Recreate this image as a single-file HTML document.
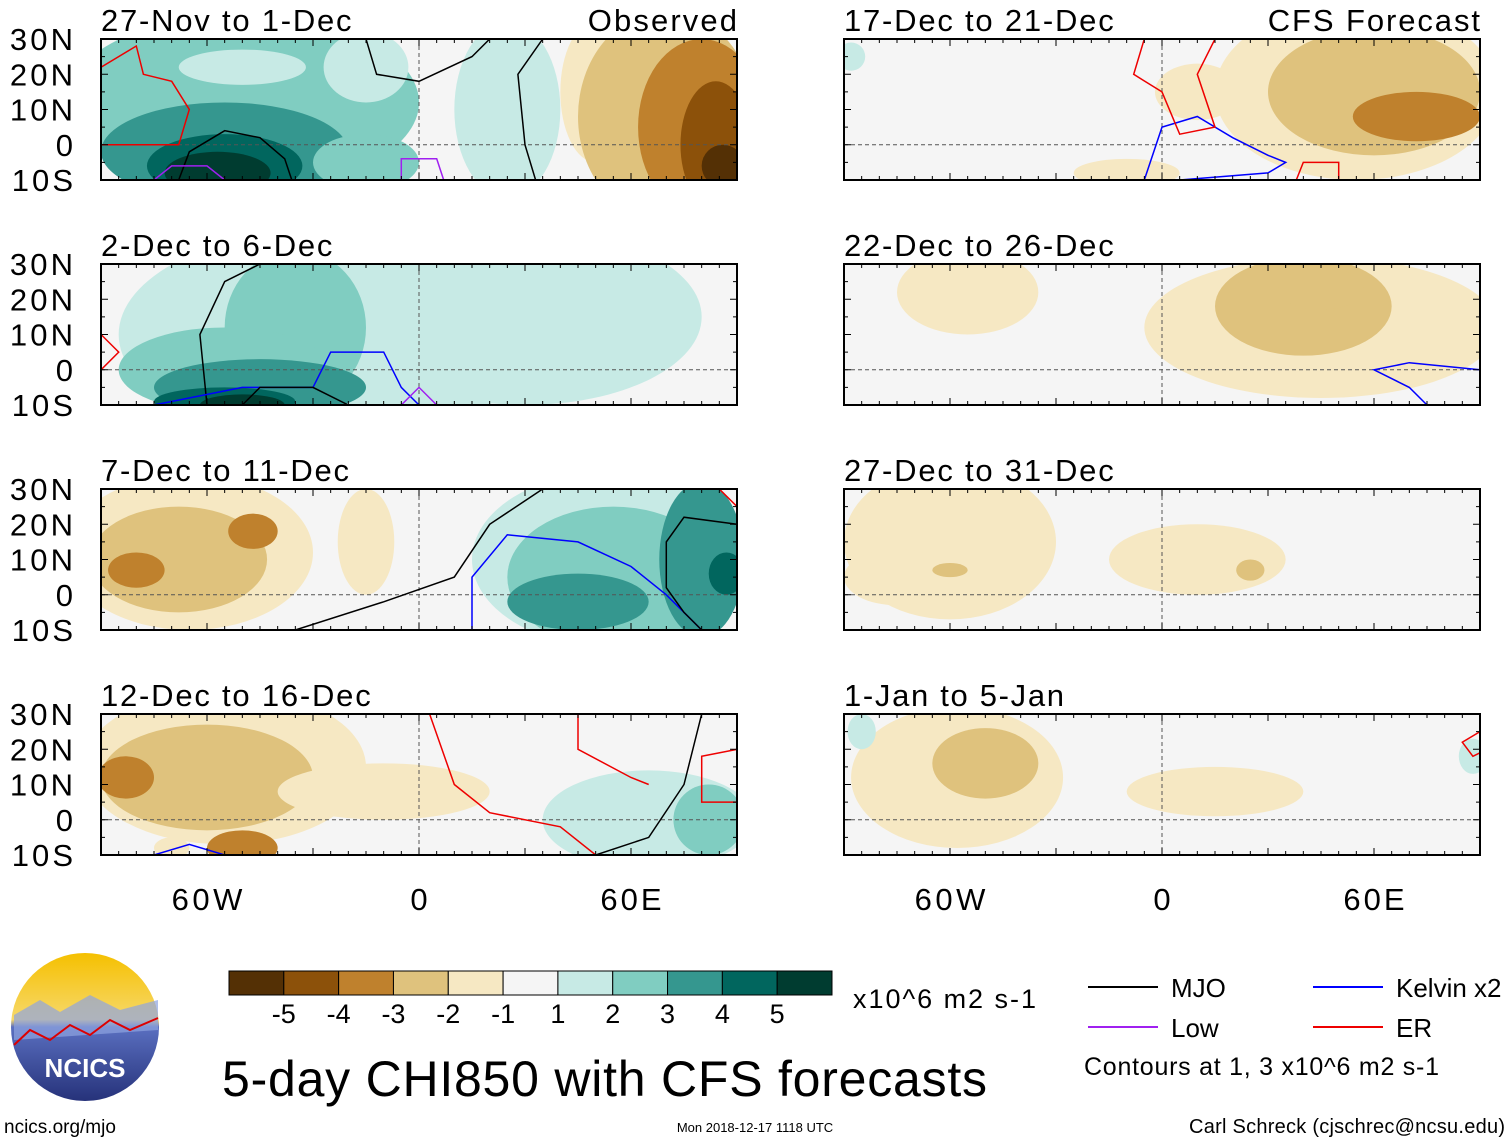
<!DOCTYPE html>
<html><head><meta charset="utf-8"><style>
body{margin:0;background:#fff;}
svg text{font-family:"Liberation Sans",sans-serif;}
</style></head><body>
<svg id="fig" width="1510" height="1142" viewBox="0 0 1510 1142" xmlns="http://www.w3.org/2000/svg">
<defs>
<linearGradient id="sky" x1="0" y1="0" x2="0" y2="1">
<stop offset="0" stop-color="#f5c000"/><stop offset="0.45" stop-color="#f7d86a"/><stop offset="0.5" stop-color="#5a6fc0"/><stop offset="1" stop-color="#26327a"/>
</linearGradient>
</defs>
</svg>
<script>
// colour scale (bins)
const binColors=["#543005","#8c510a","#bf812d","#dfc27d","#f6e8c3","#f5f5f5","#c7eae5","#80cdc1","#35978f","#01665e","#003c30"];
const binLabels=["-5","-4","-3","-2","-1","1","2","3","4","5"];
const panelTitles=["27-Nov to 1-Dec","2-Dec to 6-Dec","7-Dec to 11-Dec","12-Dec to 16-Dec","17-Dec to 21-Dec","22-Dec to 26-Dec","27-Dec to 31-Dec","1-Jan to 5-Jan"];
const latTicks=["30N","20N","10N","0","10S"];
const lonTicks=["60W","0","60E"];
// blobs: [lon, lat, rxDeg, ryDeg, bin]
const blobs0=[[-50,12,50,25,7],[-15,22,12,10,6],[25,10,15,25,6],[-50,22,18,5,6],[-55,-2,35,14,8],[-55,-6,22,9,9],[-57,-8,15,6,10],[-15,-5,15,8,7],[50,15,10,20,4],[70,8,25,30,3],[80,5,18,25,2],[84,0,10,18,1],[86,-6,6,6,0]];
const blobs1=[[-25,10,60,30,6],[30,15,50,25,6],[-35,12,20,22,7],[-55,0,30,12,7],[-45,-5,30,8,8],[-55,-9,20,4,9],[-50,-10,12,3,10],[85,-5,10,10,5]];
const blobs2=[[-65,12,35,22,4],[-68,10,25,15,3],[-80,7,8,5,2],[-47,18,7,5,2],[-15,15,8,15,4],[55,10,40,25,6],[55,5,30,20,7],[80,10,12,22,8],[87,6,5,6,9],[45,-2,20,8,8]];
const blobs3=[[-55,15,40,22,4],[-60,12,30,15,3],[-83,12,8,6,2],[-50,-8,10,5,2],[-10,8,30,8,4],[65,0,30,14,6],[82,0,10,10,7],[-70,-8,5,3,4]];
const blobs4=[[55,15,40,25,4],[60,15,30,18,3],[72,8,18,7,2],[10,15,12,8,4],[-10,-8,15,4,4],[-88,25,4,4,6]];
const blobs5=[[-55,22,20,12,4],[45,12,50,20,4],[40,18,25,14,3],[45,23,12,6,3]];
const blobs6=[[-60,15,30,22,4],[-75,5,15,8,4],[10,10,25,10,4],[-60,7,5,2,3],[25,7,4,3,3]];
const blobs7=[[-58,12,30,20,4],[-50,16,15,10,3],[15,8,25,7,4],[-85,25,4,5,6],[88,18,4,5,6]];
const allBlobs=[blobs0,blobs1,blobs2,blobs3,blobs4,blobs5,blobs6,blobs7];
// contours: [color, [[lon,lat],...]]
const lines0=[["#000",[[-68,-10],[-65,-2],[-55,4],[-45,2],[-38,-4],[-36,-10]]],["#e00",[[-90,22],[-80,28],[-78,20],[-70,18],[-65,10],[-68,0],[-90,0]]],["#000",[[-15,30],[-12,20],[0,18],[15,25],[20,30]]],["#000",[[35,30],[28,20],[30,0],[33,-10]]],["#a020f0",[[-5,-10],[-5,-4],[5,-4],[7,-10]]],["#a020f0",[[-75,-10],[-70,-6],[-60,-6],[-55,-10]]]];
const lines1=[["#000",[[-60,-10],[-62,10],[-55,25],[-45,30]]],["#00f",[[-75,-10],[-50,-5],[-30,-5],[-25,5],[-10,5],[-5,-5],[0,-10]]],["#000",[[-50,-10],[-45,-5],[-30,-5],[-20,-10]]],["#e00",[[-90,10],[-85,5],[-90,0]]],["#a020f0",[[-5,-10],[0,-5],[5,-10]]]];
const lines2=[["#000",[[-35,-10],[-10,-2],[10,5],[20,20],[35,30]]],["#00f",[[15,-10],[15,5],[25,17],[45,15],[60,8],[70,0],[80,-10]]],["#000",[[90,20],[75,22],[70,15],[70,2],[75,-5],[80,-10]]],["#e00",[[85,30],[90,25]]]];
const lines3=[["#e00",[[3,30],[10,10],[20,2],[40,-2],[50,-10]]],["#e00",[[45,30],[45,20],[60,12],[65,10]]],["#000",[[50,-10],[65,-5],[75,10],[80,30]]],["#e00",[[90,20],[80,18],[80,5],[90,5]]],["#00f",[[-75,-10],[-65,-7],[-55,-10]]]];
const lines4=[["#00f",[[-5,-10],[0,5],[10,8],[20,2],[30,-3],[35,-5],[30,-8],[5,-10]]],["#e00",[[-5,30],[-8,20],[0,15],[5,3],[15,5],[10,20],[15,30]]],["#e00",[[38,-10],[40,-5],[50,-5],[50,-10]]]];
const lines5=[["#00f",[[90,0],[70,2],[60,0],[70,-5],[75,-10]]]];
const lines6=[];
const lines7=[["#e00",[[90,25],[85,22],[88,18],[90,19]]]];
const allLines=[lines0,lines1,lines2,lines3,lines4,lines5,lines6,lines7];

const NS="http://www.w3.org/2000/svg";
const svg=document.getElementById('fig');
function mk(tag,attrs,parent){const e=document.createElementNS(NS,tag);for(const k in attrs)e.setAttribute(k,attrs[k]);(parent||svg).appendChild(e);return e;}
const PW=636,PH=141;
const colX=[101,844],rowY=[39,264,489,714];
function X(lon,x0){return x0+(lon+90)*PW/180;}
function Y(lat,y0){return y0+(30-lat)*PH/40;}
const defs=svg.querySelector('defs');
const wide=[];
for(let p=0;p<8;p++){
  const x0=colX[p<4?0:1],y0=rowY[p%4];
  const cp=mk('clipPath',{id:'c'+p},defs);mk('rect',{x:x0,y:y0,width:PW,height:PH},cp);
  const g=mk('g',{'clip-path':'url(#c'+p+')'});
  
  
  mk('rect',{x:x0,y:y0,width:PW,height:PH,fill:binColors[5]},g);
  allBlobs[p].forEach(b=>{
    const e=mk('ellipse',{cx:X(b[0],x0),cy:Y(b[1],y0),rx:b[2]*PW/180,ry:b[3]*PH/40,fill:binColors[b[4]]},g);
    
    
  });
  mk('line',{x1:x0,y1:Y(0,y0),x2:x0+PW,y2:Y(0,y0),stroke:'#555','stroke-dasharray':'4,3','stroke-width':1},g);
  mk('line',{x1:X(0,x0),y1:y0,x2:X(0,x0),y2:y0+PH,stroke:'#555','stroke-dasharray':'4,3','stroke-width':1},g);
  allLines[p].forEach(l=>{
    const d=l[1].map((pt,i)=>(i?'L':'M')+X(pt[0],x0).toFixed(1)+','+Y(pt[1],y0).toFixed(1)).join(' ');
    const e=mk('path',{d:d,fill:'none',stroke:l[0],'stroke-width':1.5},g);
    
    
  });
  const fr=mk('rect',{x:x0,y:y0,width:PW,height:PH,fill:'none',stroke:'#000','stroke-width':2});
  
  
  for(let lon=-90;lon<=90;lon+=5){const xx=X(lon,x0),L=lon%30==0?7:4;
    mk('line',{x1:xx,y1:y0,x2:xx,y2:y0+L,stroke:'#000'});mk('line',{x1:xx,y1:y0+PH,x2:xx,y2:y0+PH-L,stroke:'#000'});}
  for(let lat=-10;lat<=30;lat+=5){const yy=Y(lat,y0),L=lat%10==0?7:4;
    mk('line',{x1:x0,y1:yy,x2:x0+L,y2:yy,stroke:'#000'});mk('line',{x1:x0+PW,y1:yy,x2:x0+PW-L,y2:yy,stroke:'#000'});}
  const t=mk('text',{x:x0,y:y0-8,'font-size':31});t.textContent=panelTitles[p];
  
  
  wide.push(t);
  if(p<4){latTicks.forEach((s,i)=>{const tt=mk('text',{x:73,y:Y(30-i*10,y0)+11,'font-size':31,'text-anchor':'end'});tt.textContent=s;
    
    wide.push(tt);});}
  if(p%4==3){lonTicks.forEach((s,i)=>{const tt=mk('text',{x:X(-60+i*60,x0),y:910,'font-size':31,'text-anchor':'middle'});tt.textContent=s;
    
    wide.push(tt);});}
}
function txt(s,a,name){const t=mk('text',a);t.textContent=s;return t;}
wide.push(txt('Observed',{x:737,y:31,'font-size':31,'text-anchor':'end'},'observed-label'));
wide.push(txt('CFS Forecast',{x:1480,y:31,'font-size':31,'text-anchor':'end'},'forecast-label'));
// colorbar
const cbX=229,cbW=603,cbY=971,cbH=24,bw=cbW/binColors.length;
binColors.forEach((c,i)=>{const r=mk('rect',{x:cbX+i*bw,y:cbY,width:bw,height:cbH,fill:c,stroke:'#000','stroke-width':1});
  
  });
binLabels.forEach((s,i)=>txt(s,{x:cbX+(i+1)*bw,y:1023,'font-size':27,'text-anchor':'middle'},'colorbar-label'));
txt('x10^6 m2 s-1',{x:853,y:1008,'font-size':27,textLength:183},'colorbar-units');
txt('5-day CHI850 with CFS forecasts',{x:222,y:1096,'font-size':50,textLength:765},'main-title');
// legend
const leg=[["MJO","#000",1088,987],["Low","#a020f0",1088,1027],["Kelvin x2","#00f",1313,987],["ER","#e00",1313,1027]];
leg.forEach(l=>{const ln=mk('line',{x1:l[2],y1:l[3],x2:l[2]+70,y2:l[3],stroke:l[1],'stroke-width':2});
  
  txt(l[0],{x:l[2]+83,y:l[3]+10,'font-size':26},'legend-entry');});
txt('Contours at 1, 3 x10^6 m2 s-1',{x:1084,y:1075,'font-size':25,textLength:355},'contour-note');
txt('ncics.org/mjo',{x:4,y:1133,'font-size':19},'ncics-url');
txt('Mon 2018-12-17 1118 UTC',{x:755,y:1132,'font-size':13,'text-anchor':'middle'},'timestamp');
txt('Carl Schreck (cjschrec@ncsu.edu)',{x:1505,y:1133,'font-size':20,'text-anchor':'end',textLength:316},'author');
// logo
const lg=mk('g',{});
mk('circle',{cx:85,cy:1027,r:74,fill:'url(#sky)'},lg);
mk('path',{d:'M14,1015 L40,1000 L60,1012 L90,995 L120,1010 L158,1000 L158,1030 L14,1040Z',fill:'#8fa4e0',opacity:0.7},lg);
mk('path',{d:'M14,1045 L30,1030 L50,1040 L70,1025 L90,1035 L110,1020 L130,1030 L158,1018',fill:'none',stroke:'#d00','stroke-width':2},lg);
const lt=mk('text',{x:85,y:1077,'font-size':26,'font-weight':'bold',fill:'#fff','text-anchor':'middle'},lg);lt.textContent='NCICS';
// widen large labels to match Helvetica metrics
wide.forEach(t=>{const w=t.getComputedTextLength();t.setAttribute('textLength',(w*1.11).toFixed(1));});
</script>
</body></html>
